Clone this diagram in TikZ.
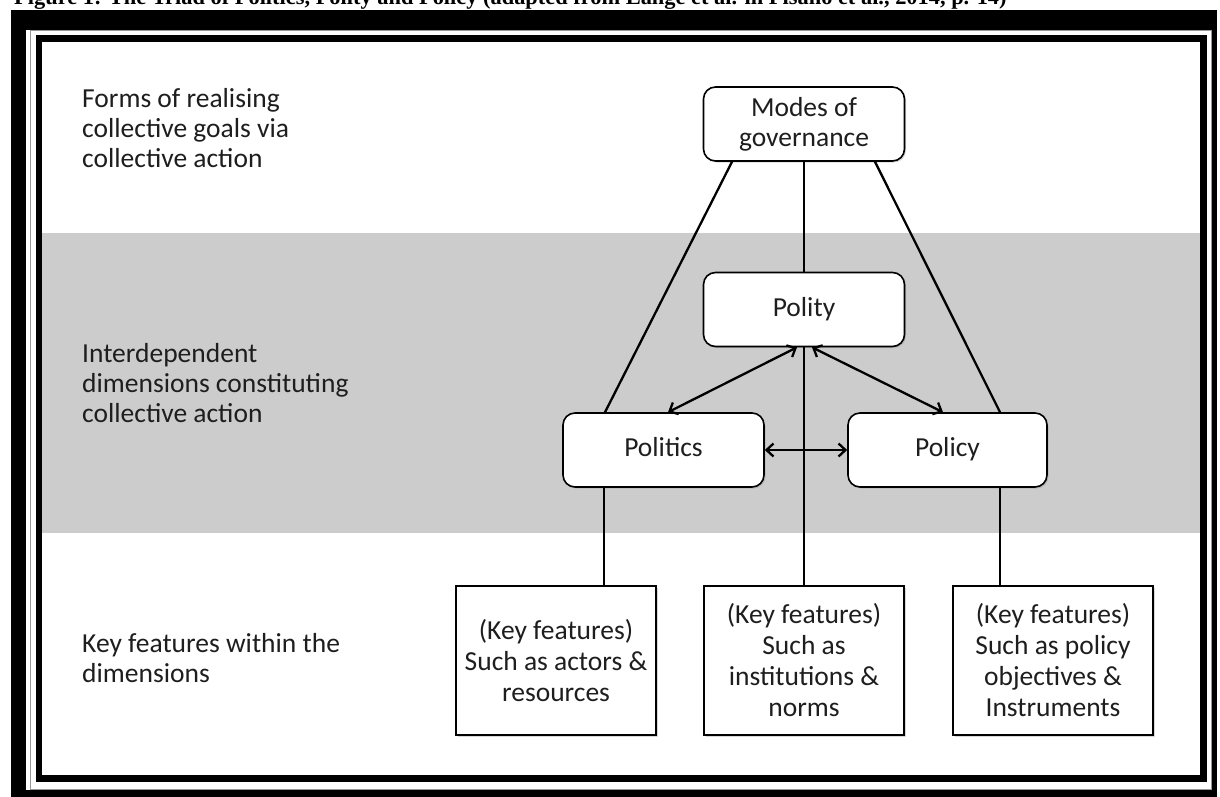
\documentclass[tikz,border=0pt]{standalone}
\usepackage{fontspec}
\setmainfont{Carlito}
\newfontfamily\captionfont{Liberation Serif}
\usetikzlibrary{calc,arrows.meta,shadows}
\definecolor{bandgrey}{RGB}{204,204,204}
\definecolor{inkgrey}{RGB}{30,30,30}

\begin{document}
\begin{tikzpicture}[x=1pt,y=-1pt,
  roundbox/.style={draw,line width=1.6pt,rounded corners=12pt,fill=white,
    minimum width=201pt,minimum height=74pt,inner sep=0pt,align=center,
    text=inkgrey,font=\fontsize{27.5}{30}\selectfont,
    drop shadow={shadow xshift=1.5pt,shadow yshift=-1.5pt,opacity=0.3}},
  oneline/.style={text height=19pt,text depth=6pt},
  featbox/.style={draw,line width=1.6pt,fill=white,
    minimum width=200pt,minimum height=149pt,inner sep=0pt,align=center,
    text=inkgrey,font=\fontsize{27.5}{31}\selectfont,
    drop shadow={shadow xshift=1.5pt,shadow yshift=-1.5pt,opacity=0.3}},
  levellabel/.style={anchor=west,align=left,inner sep=0pt,text=inkgrey,
    font=\fontsize{27.5}{30}\selectfont},
  link/.style={line width=2.3pt},
  >={Straight Barb[length=7pt,width=13pt]}]
\useasboundingbox (0,0) rectangle (1220,796);

% frame and band
\fill (11,10) rectangle (1217,800);
\fill[white] (26,29.5) rectangle (1211,790);
\draw[black!40,line width=0.8pt] (30,30) rectangle (1211,789.5);
\draw[line width=6.5pt] (39,38.5) rectangle (1203.5,778.5);
\fill[bandgrey] (42.25,233) rectangle (1200.25,533);

\node[anchor=base west,inner sep=0pt,font=\captionfont\bfseries\fontsize{22.4}{24}\selectfont]
  (caption) at (14,4) {Figure 1: The Triad of Politics, Polity and Policy (adapted from Lange et al. in Pisano et al., 2014, p. 14)};

% level labels
\node[levellabel] (formslbl) at (82,128) {Forms of realising\\collective goals via\\collective action};
\node[levellabel] (dimslbl) at (82,383) {Interdependent\\dimensions constituting\\collective action};
\node[levellabel] (featlbl) at (82,658) {Key features within the\\dimensions};

% boxes
\node[roundbox] (modes) at (804,124) {Modes of\\governance};
\node[roundbox,oneline] (polity) at (804,309.5) {Polity};
\node[roundbox,oneline] (politics) at (663.5,450) {Politics};
\node[roundbox,oneline,minimum width=199pt] (policy) at (947.5,450) {Policy};
\node[featbox] (keya) at (556,660.5) {(Key features)\\Such as actors \&\\resources};
\node[featbox] (keyb) at (804,660.5) {(Key features)\\Such as\\institutions \&\\norms};
\node[featbox] (keyc) at (1053,660.5) {(Key features)\\Such as policy\\objectives \&\\Instruments};

% connectors
\draw[link] ($(modes.south)+(-72,0)$) -- ($(politics.north)+(-58.5,0)$);
\draw[link] ($(modes.south)+(71,0)$) -- ($(policy.north)+(52.5,0)$);
\draw[link] (modes.south) -- (modes.south |- polity.north);
\draw[link] (polity.south) -- (polity.south |- keyb.north);
\coordinate (pa) at ($(politics.south)+(-59.5,0)$);
\coordinate (pc) at ($(policy.south)+(52.5,0)$);
\draw[link] (pa) -- (pa |- keya.north);
\draw[link] (pc) -- (pc |- keyc.north);
\draw[link,<->] ($(polity.south)+(-7,0)$) -- ($(politics.north)+(4.5,0)$);
\draw[link,<->] ($(polity.south)+(8,0)$) -- ($(policy.north)+(-4.5,0)$);
\draw[link,<->] (politics.east) -- (policy.west);
\end{tikzpicture}
\end{document}
